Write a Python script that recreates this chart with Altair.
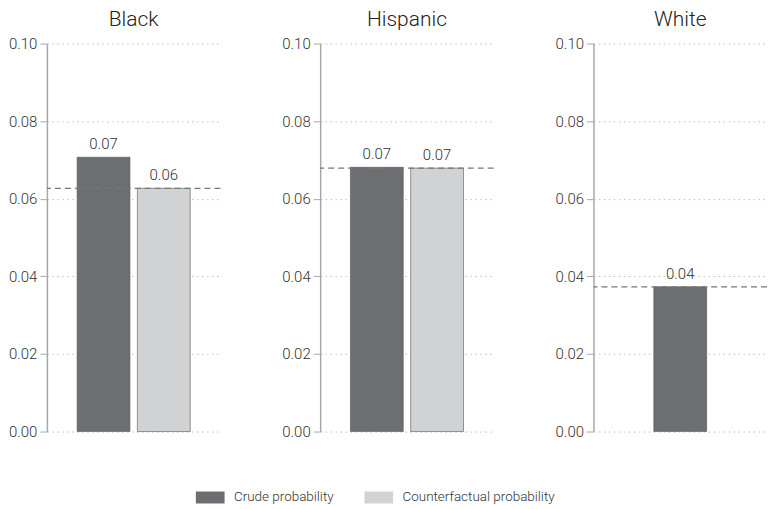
import altair as alt
import pandas as pd

groups = ["Black", "Hispanic", "White"]
crude = [0.0707, 0.0681, 0.0373]
counterfactual = [0.0627, 0.0679, None]
reference_line = [0.0627, 0.0679, 0.0373]
measures = ["Crude probability", "Counterfactual probability"]
colors = ["#6d6e71", "#d1d2d4"]
y_ticks = [0.0, 0.02, 0.04, 0.06, 0.08, 0.10]

FONT = "Roboto"

def panel(i):
    rows = [{"measure": measures[0], "value": crude[i]}]
    if counterfactual[i] is not None:
        rows.append({"measure": measures[1], "value": counterfactual[i]})
    df = pd.DataFrame(rows)
    dom = [r["measure"] for r in rows]
    x = alt.X("measure:N", axis=None, sort=dom,
              scale=alt.Scale(domain=dom, paddingInner=0.12, paddingOuter=0.5))
    y = alt.Y("value:Q", title=None,
              scale=alt.Scale(domain=[0, 0.1], nice=False),
              axis=alt.Axis(values=y_ticks, format=".2f", grid=True,
                            gridDash=[1.5, 3.5], gridColor="#bdbdbd",
                            domainColor="#a8a8a8", tickColor="#a8a8a8",
                            tickSize=7, labelFontSize=15, labelColor="#333",
                            labelPadding=3, domainWidth=1.5,
                            labelFontWeight=300))
    bars = alt.Chart(df).mark_bar(width=53, stroke="#555", strokeWidth=0.6).encode(
        x=x, y=y,
        color=alt.Color("measure:N",
                        scale=alt.Scale(domain=measures, range=colors),
                        legend=alt.Legend(title=None, orient="none",
                                          direction="horizontal",
                                          legendX=157, legendY=448,
                                          symbolType="M-2.4,-1H2.4V1H-2.4Z",
                                          symbolSize=144, symbolStrokeWidth=0,
                                          labelFontSize=13.5, labelColor="#333",
                                          labelFontWeight=300,
                                          labelOffset=17, columnPadding=30,
                                          symbolOpacity=1)))
    labels = alt.Chart(df).mark_text(dy=-13, fontSize=15, color="#333", font=FONT,
                                     fontWeight=300).encode(
        x=x, y=alt.Y("value:Q"), text=alt.Text("value:Q", format=".2f"))
    rule = alt.Chart(pd.DataFrame({"ref": [reference_line[i]]})).mark_rule(
        color="#777", strokeDash=[6, 4], strokeWidth=1.3).encode(y="ref:Q")
    return alt.layer(bars, rule, labels).properties(
        width=174, height=389,
        title=alt.TitleParams(groups[i], fontSize=21, fontWeight=300,
                              color="#222", anchor="middle", offset=7,
                              font=FONT))

chart = alt.hconcat(*[panel(i) for i in range(3)], spacing=60).properties(
    padding=0
).configure(font=FONT).configure_view(stroke=None).configure_axis(
    labelFont=FONT).configure_legend(labelFont=FONT)

chart.save("out.html", embed_options={"renderer": "svg", "actions": False})
